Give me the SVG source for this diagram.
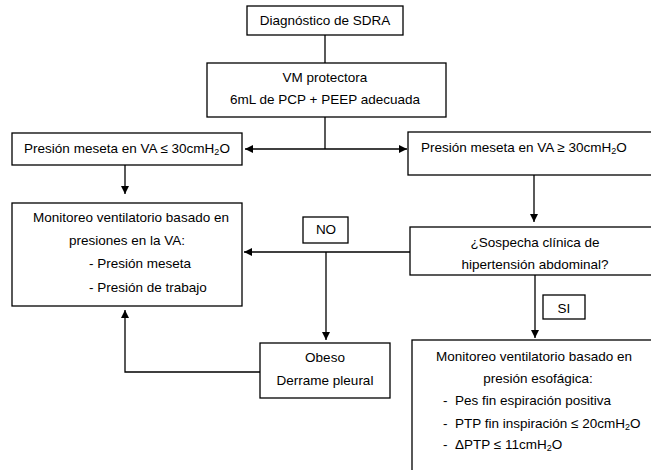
<svg xmlns="http://www.w3.org/2000/svg" width="651" height="470" viewBox="0 0 651 470">
<defs>
<style>
.box{fill:#fff;stroke:#000;stroke-width:1.3}
.ln{fill:none;stroke:#000;stroke-width:1.3}
.ar{fill:none;stroke:#000;stroke-width:1.3;marker-end:url(#ah)}
text{font-family:"Liberation Sans",Arial,sans-serif;font-size:13.5px;fill:#000}
.c{text-anchor:middle}
.sub{font-size:9px}
</style>
<marker id="ah" markerUnits="userSpaceOnUse" markerWidth="9" markerHeight="8" refX="8" refY="4" orient="auto">
<path d="M0,0 L8,4 L0,8 z" fill="#000"/>
</marker>
</defs>
<rect width="651" height="470" fill="#fff"/>
<g id="connectors">
<path class="ln" d="M325,35 V63"/>
<path class="ln" d="M325,117 V149"/>
<path class="ar" d="M325,149 H245"/>
<path class="ar" d="M325,149 H407"/>
<path class="ar" d="M125,165 V194"/>
<path class="ar" d="M534,175 V222"/>
<path class="ar" d="M410,252 H244"/>
<path class="ar" d="M326,252 V340"/>
<path class="ar" d="M260,372 H125 V310"/>
<path class="ar" d="M535,275 V338"/>
</g>
<g id="diagnostico">
<rect class="box" x="247" y="6" width="156" height="29"/>
<text class="c" x="325" y="25">Diagnóstico de SDRA</text>
</g>
<g id="vm">
<rect class="box" x="207" y="63" width="239" height="54"/>
<text class="c" x="325" y="82">VM protectora</text>
<text class="c" x="325" y="104">6mL de PCP + PEEP adecuada</text>
</g>
<g id="meseta-menor">
<rect class="box" x="12" y="133" width="230" height="32"/>
<text class="c" x="127" y="153">Presión meseta en VA ≤ 30cmH<tspan class="sub" dy="2">2</tspan><tspan dy="-2">O</tspan></text>
</g>
<g id="meseta-mayor">
<rect class="box" x="408" y="132" width="250" height="43"/>
<text x="421" y="152">Presión meseta en VA ≥ 30cmH<tspan class="sub" dy="2">2</tspan><tspan dy="-2">O</tspan></text>
</g>
<g id="monitoreo-va">
<rect class="box" x="12" y="203" width="230" height="103"/>
<text class="c" x="131" y="222">Monitoreo ventilatorio basado en</text>
<text class="c" x="127" y="245">presiones en la VA:</text>
<text x="89" y="268">-  Presión meseta</text>
<text x="89" y="292">-  Presión de trabajo</text>
</g>
<g id="no">
<rect class="box" x="303" y="217" width="45" height="26"/>
<text class="c" x="326" y="234">NO</text>
</g>
<g id="sospecha">
<rect class="box" x="410" y="227" width="250" height="48"/>
<text class="c" x="535" y="247">¿Sospecha clínica de</text>
<text class="c" x="535" y="269">hipertensión abdominal?</text>
</g>
<g id="si">
<rect class="box" x="543" y="295" width="42" height="24"/>
<text class="c" x="564" y="313">SI</text>
</g>
<g id="obeso">
<rect class="box" x="260" y="343" width="130" height="55"/>
<text class="c" x="325" y="362">Obeso</text>
<text class="c" x="325" y="385">Derrame pleural</text>
</g>
<g id="monitoreo-esofagica">
<rect class="box" x="412" y="340" width="250" height="140"/>
<text class="c" x="534" y="361">Monitoreo ventilatorio basado en</text>
<text class="c" x="538" y="383">presión esofágica:</text>
<text x="443" y="405">-</text>
<text x="455" y="405">Pes fin espiración positiva</text>
<text x="443" y="428">-</text>
<text x="455" y="428">PTP fin inspiración ≤ 20cmH<tspan class="sub" dy="2">2</tspan><tspan dy="-2">O</tspan></text>
<text x="443" y="449">-</text>
<text x="455" y="449">ΔPTP ≤ 11cmH<tspan class="sub" dy="2">2</tspan><tspan dy="-2">O</tspan></text>
</g>
</svg>
